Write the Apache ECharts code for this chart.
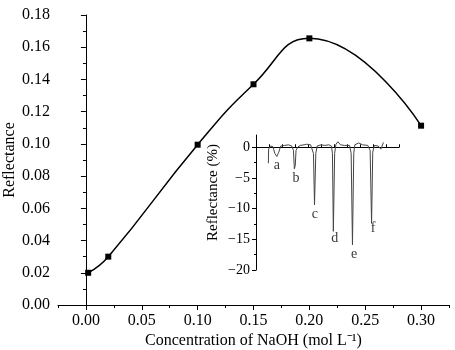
<!DOCTYPE html>
<html>
<head>
<meta charset="utf-8">
<script src="https://cdn.jsdelivr.net/npm/echarts@6/dist/echarts.min.js"></script>
<style>
html, body { margin: 0; padding: 0; background: #fff; }
#chart { width: 455px; height: 350px; }
</style>
</head>
<body>
<div id="chart"></div>
<script>
// main curve: reflectance vs NaOH concentration
var concentration = [0.002, 0.02, 0.10, 0.15, 0.20, 0.30];
var reflectance = [0.020, 0.030, 0.0995, 0.137, 0.1655, 0.1113];
var xMajorTicks = [0, 0.05, 0.10, 0.15, 0.20, 0.25, 0.30];
var xMinorTicks = [-0.025, 0.025, 0.075, 0.125, 0.175, 0.225, 0.275, 0.325];

// inset trace (reflectance %, arbitrary time axis)
var insetTime = [0.95, 0.97, 1.1, 1.3, 1.45, 1.6, 1.75, 1.9, 2.2, 2.5, 2.75, 2.88, 2.95, 3.02, 3.08,
    3.2, 3.4, 3.7, 3.9, 4.2, 4.35, 4.42, 4.5, 4.6, 4.7, 5.0, 5.3, 5.6, 5.8, 5.88, 5.95, 6.05,
    6.15, 6.3, 6.5, 6.8, 7.2, 7.32, 7.42, 7.52, 7.6, 7.9, 8.2, 8.6, 8.78, 8.89, 8.98, 9.1, 9.4,
    9.6, 9.7, 9.8];
var insetSignal = [-2.6, -0.3, 0.2, 0.1, -1.0, -1.5, -0.8, 0.2, 0.3, 0.4, 0.2, -0.5, -3.5, -3.0, -0.5,
    0, 0.3, 0.4, 0.5, 0.4, 0.2, -1, -9.4, -1.0, 0.2, 0.4, 0.3, 0.4, 0.2, -1, -13.7, -1,
    0.5, 0.9, 0.4, 0.3, 0.3, -1, -15.9, -1.0, 0.4, 0.7, 0.4, 0.3, -0.5, -12.4, -0.8, 0.3, 0.2,
    -0.3, 0.2, 0.8];
var peakNames = ['a', 'b', 'c', 'd', 'e', 'f'];
var peakLabelX = [1.6, 3.07, 4.52, 6.05, 7.55, 9.0];
var peakLabelY = [-2.9, -5.0, -11.0, -14.8, -17.5, -13.2];
var insetMajorTicks = [-20, -15, -10, -5, 0];
var insetMinorTicks = [-17.5, -12.5, -7.5, -2.5];

var serif = 'Liberation Serif';

var mainData = concentration.map(function (c, i) { return [c, reflectance[i]]; });
var insetData = insetTime.map(function (t, i) { return [t, insetSignal[i]]; });
var labelData = peakNames.map(function (n, i) { return { name: n, value: [peakLabelX[i], peakLabelY[i]] }; });

var chart = echarts.init(document.getElementById('chart'));
var option = {
    animation: false,
    backgroundColor: '#fff',
    textStyle: { fontFamily: serif, color: '#000' },
    grid: [
        { left: 58, top: 15, right: 6, bottom: 45, outerBoundsMode: 'none', containLabel: false },
        { left: 256, top: 135, right: 56, bottom: 80, outerBoundsMode: 'none', containLabel: false }
    ],
    xAxis: [
        {
            type: 'value', gridIndex: 0, position: 'bottom',
            min: -0.025, max: 0.325,
            name: 'Concentration of NaOH (mol L\u207B\u00B9)',
            nameLocation: 'middle', nameGap: 28, nameMoveOverlap: false,
            nameTextStyle: { fontFamily: serif, fontSize: 16, color: '#000' },
            axisLine: { lineStyle: { color: '#000', width: 1 } },
            axisTick: { customValues: xMajorTicks, length: 5, lineStyle: { color: '#000' } },
            axisLabel: {
                customValues: xMajorTicks, margin: 8,
                fontFamily: serif, fontSize: 16, color: '#000',
                formatter: function (v) { return v.toFixed(2); }
            },
            splitLine: { show: false }
        },
        {
            type: 'value', gridIndex: 0, position: 'bottom',
            min: -0.025, max: 0.325,
            axisLine: { show: false },
            axisTick: { customValues: xMinorTicks, length: 3, lineStyle: { color: '#000' } },
            axisLabel: { show: false },
            splitLine: { show: false }
        },
        {
            type: 'value', gridIndex: 1, position: 'bottom',
            min: 0, max: 11, interval: 1,
            axisLine: { lineStyle: { color: '#000', width: 1 } },
            axisTick: { inside: true, length: 3, lineStyle: { color: '#000' } },
            axisLabel: { show: false },
            splitLine: { show: false }
        }
    ],
    yAxis: [
        {
            type: 'value', gridIndex: 0,
            min: 0, max: 0.18, interval: 0.02,
            name: 'Reflectance', nameLocation: 'middle', nameGap: 40, nameMoveOverlap: false,
            nameTextStyle: { fontFamily: serif, fontSize: 16, color: '#000' },
            axisLine: { show: true, lineStyle: { color: '#000', width: 1 } },
            axisTick: { show: true, length: 5, lineStyle: { color: '#000' } },
            minorTick: { show: true, splitNumber: 2, length: 3, lineStyle: { color: '#000' } },
            axisLabel: {
                margin: 8, fontFamily: serif, fontSize: 16, color: '#000',
                formatter: function (v) { return v.toFixed(2); }
            },
            splitLine: { show: false }
        },
        {
            type: 'value', gridIndex: 1, position: 'left',
            min: -20, max: 2,
            name: 'Reflectance (%)', nameLocation: 'middle', nameGap: 35, nameMoveOverlap: false,
            nameTextStyle: { fontFamily: serif, fontSize: 15, color: '#000', padding: [0, 0, 0, 20] },
            axisLine: { show: true, lineStyle: { color: '#000', width: 1 } },
            axisTick: { show: true, customValues: insetMajorTicks, length: 4, lineStyle: { color: '#000' } },
            axisLabel: {
                customValues: insetMajorTicks, margin: 6,
                fontFamily: serif, fontSize: 14, color: '#000',
                formatter: function (v) { return v < 0 ? '\u2212' + Math.abs(v) : String(v); }
            },
            splitLine: { show: false }
        },
        {
            type: 'value', gridIndex: 1, position: 'left',
            min: -20, max: 2,
            axisLine: { show: false },
            axisTick: { show: true, customValues: insetMinorTicks, length: 2, lineStyle: { color: '#000' } },
            axisLabel: { show: false },
            splitLine: { show: false }
        }
    ],
    series: [
        {
            type: 'line', xAxisIndex: 0, yAxisIndex: 0,
            data: mainData,
            smooth: 0.5,
            symbol: 'rect', symbolSize: 6,
            itemStyle: { color: '#000' },
            lineStyle: { color: '#000', width: 1.5 }
        },
        {
            type: 'line', xAxisIndex: 2, yAxisIndex: 1,
            data: insetData,
            symbol: 'none',
            lineStyle: { color: '#444', width: 1 }
        },
        {
            type: 'scatter', xAxisIndex: 2, yAxisIndex: 1,
            data: labelData,
            symbolSize: 0,
            label: {
                show: true, position: 'inside',
                formatter: '{b}',
                fontFamily: serif, fontSize: 14, color: '#000'
            }
        }
    ]
};
chart.setOption(option);
</script>
</body>
</html>
